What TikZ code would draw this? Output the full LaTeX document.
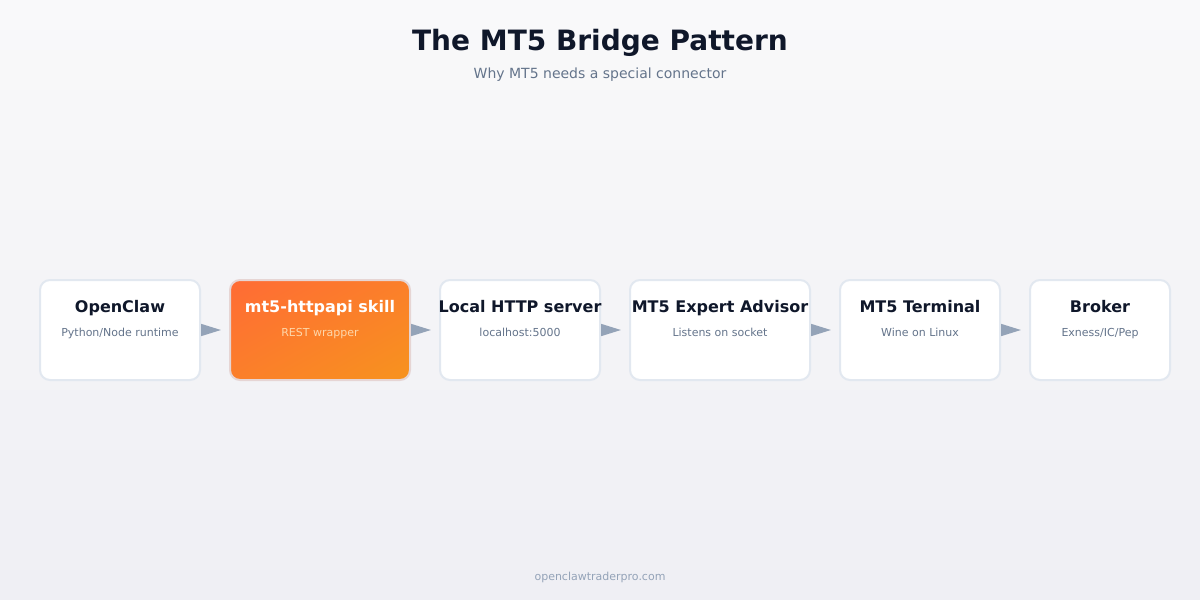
\documentclass[tikz,border=0pt]{standalone}
\usepackage{fontspec}
\setmainfont{DejaVu Sans}
\usetikzlibrary{arrows.meta,shadings}
\definecolor{bgtop}{HTML}{F9F9FA}
\definecolor{bgbot}{HTML}{EFEFF4}
\definecolor{ink}{HTML}{0F172A}
\definecolor{muted}{HTML}{64748B}
\definecolor{faint}{HTML}{94A3B8}
\definecolor{edge}{HTML}{E2E8F0}
\definecolor{orA}{HTML}{FF6B35}
\definecolor{orB}{HTML}{F7931E}
\definecolor{orM}{HTML}{FB7F2A}
\definecolor{orline}{HTML}{F97316}
\definecolor{paleor}{HTML}{FED7AA}
\tikzset{
  box/.style={draw=edge, line width=2pt, fill=white, rounded corners=10pt, minimum height=100pt, inner sep=0pt},
  hot/.style={box, draw=edge!85!orA, upper left=orA, lower right=orB, upper right=orM, lower left=orM},
  ttl/.style={font=\bfseries\fontsize{16}{19}\selectfont, text=ink, inner sep=0pt, anchor=base},
  sub/.style={font=\fontsize{11}{13}\selectfont, text=muted, inner sep=0pt, anchor=base},
  conn/.style={draw=orline, line width=1.5pt, -{Triangle[length=20pt,width=12pt,color=faint]}}
}
\begin{document}
\begin{tikzpicture}[x=1pt,y=-1pt]
\shade[top color=bgtop, bottom color=bgbot] (0,0) rectangle (1200,600);
\useasboundingbox (0,0) rectangle (1200,600);
\node[font=\bfseries\fontsize{28}{33}\selectfont, text=ink, anchor=base, inner sep=0pt] (title) at (600,50) {The MT5 Bridge Pattern};
\node[font=\fontsize{14}{17}\selectfont, text=muted, anchor=base, inner sep=0pt] (subtitle) at (600,78) {Why MT5 needs a special connector};
\node[box, minimum width=160pt] (b1) at (120,330) {};
\node[hot, minimum width=180pt] (b2) at (320,330) {};
\node[box, minimum width=160pt] (b3) at (520,330) {};
\node[box, minimum width=180pt] (b4) at (720,330) {};
\node[box, minimum width=160pt] (b5) at (920,330) {};
\node[box, minimum width=140pt] (b6) at (1100,330) {};
\node[ttl] (t1) at (120,312) {OpenClaw};
\node[sub] (s1) at (120,336) {Python/Node runtime};
\node[ttl, text=white] (t2) at (320,312) {mt5-httpapi skill};
\node[sub, text=paleor] (s2) at (320,336) {REST wrapper};
\node[ttl] (t3) at (520,312) {Local HTTP server};
\node[sub] (s3) at (520,336) {localhost:5000};
\node[ttl] (t4) at (720,312) {MT5 Expert Advisor};
\node[sub] (s4) at (720,336) {Listens on socket};
\node[ttl] (t5) at (920,312) {MT5 Terminal};
\node[sub] (s5) at (920,336) {Wine on Linux};
\node[ttl] (t6) at (1100,312) {Broker};
\node[sub] (s6) at (1100,336) {Exness/IC/Pep};
\foreach \a/\b in {b1/b2,b2/b3,b3/b4,b4/b5,b5/b6}
  \draw[conn] ([xshift=1pt]\a.east) -- ([xshift=-8pt]\b.west);
\node[font=\fontsize{11}{13}\selectfont, text=faint, anchor=base, inner sep=0pt] (footer) at (600,580) {openclawtraderpro.com};
\end{tikzpicture}
\end{document}
